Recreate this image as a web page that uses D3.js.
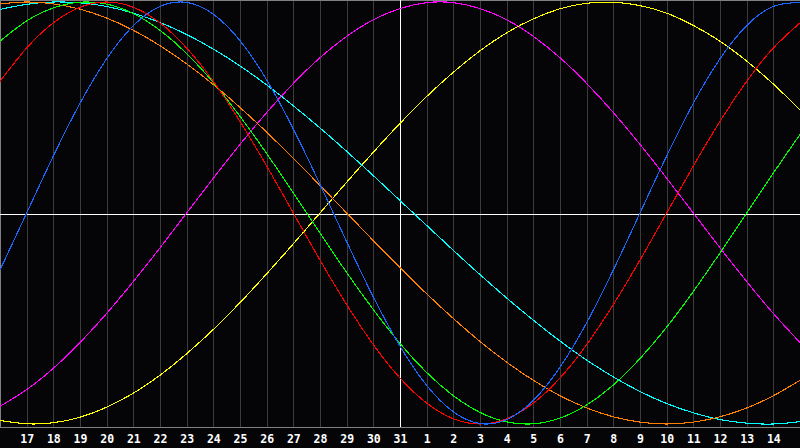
<!DOCTYPE html>
<html>
<head>
<meta charset="utf-8">
<script src="https://cdn.jsdelivr.net/npm/d3@7"></script>
<style>
  html, body { margin: 0; padding: 0; background: #050508; }
  svg { display: block; }
</style>
</head>
<body>
<svg id="chart" width="800" height="448"></svg>
<script>
// Day labels (x positions 1..29 of a 0..30 day window)
const dayLabels = [17,18,19,20,21,22,23,24,25,26,27,28,29,30,31,1,2,3,4,5,6,7,8,9,10,11,12,13,14];

// Daily values for each cycle, day offsets 0..30
const blue23 = [-0.270,0.000,0.270,0.520,0.731,0.888,0.979,0.998,0.942,0.817,0.631,0.398,0.136,-0.136,-0.398,-0.631,-0.817,-0.942,-0.998,-0.979,-0.888,-0.731,-0.520,-0.270,0.000,0.270,0.520,0.731,0.888,0.979,0.998];
const red28 = [0.624,0.782,0.901,0.975,1.000,0.975,0.901,0.782,0.624,0.434,0.223,0.000,-0.223,-0.434,-0.624,-0.782,-0.901,-0.975,-1.000,-0.975,-0.901,-0.782,-0.624,-0.434,-0.223,0.000,0.223,0.434,0.624,0.782,0.901];
const green33 = [0.815,0.910,0.972,0.999,0.990,0.945,0.866,0.756,0.618,0.458,0.282,0.095,-0.095,-0.282,-0.458,-0.618,-0.756,-0.866,-0.945,-0.990,-0.999,-0.972,-0.910,-0.815,-0.690,-0.541,-0.372,-0.189,0.000,0.189,0.372];
const magenta38 = [-0.916,-0.837,-0.736,-0.614,-0.476,-0.325,-0.165,0.000,0.165,0.325,0.476,0.614,0.736,0.837,0.916,0.969,0.997,0.997,0.969,0.916,0.837,0.736,0.614,0.476,0.325,0.165,0.000,-0.165,-0.325,-0.476,-0.614];
const yellow43 = [-0.983,-0.999,-0.994,-0.968,-0.920,-0.854,-0.769,-0.667,-0.552,-0.425,-0.288,-0.146,0.000,0.146,0.288,0.425,0.552,0.667,0.769,0.854,0.920,0.968,0.994,0.999,0.983,0.947,0.889,0.814,0.720,0.611,0.489];
const orange48 = [0.991,1.000,0.991,0.966,0.924,0.866,0.793,0.707,0.609,0.500,0.383,0.259,0.131,0.000,-0.131,-0.259,-0.383,-0.500,-0.609,-0.707,-0.793,-0.866,-0.924,-0.966,-0.991,-1.000,-0.991,-0.966,-0.924,-0.866,-0.793];
const cyan53 = [0.965,0.989,1.000,0.996,0.979,0.947,0.903,0.846,0.777,0.697,0.607,0.508,0.403,0.292,0.177,0.059,-0.059,-0.177,-0.292,-0.403,-0.508,-0.607,-0.697,-0.777,-0.846,-0.903,-0.947,-0.979,-0.996,-1.000,-0.989];

const seriesList = [
  { name: "magenta", values: magenta38, color: "#ff00ff" },
  { name: "yellow", values: yellow43, color: "#ffff00" },
  { name: "cyan", values: cyan53, color: "#00ffff" },
  { name: "orange", values: orange48, color: "#ff8000" },
  { name: "green", values: green33, color: "#00ff00" },
  { name: "red", values: red28, color: "#ff0000" },
  { name: "blue", values: blue23, color: "#1a66ff" }
];

const W = 800, plotBottom = 427;
const svg = d3.select("#chart");

const x = d3.scaleLinear().domain([0, 30]).range([0, 800]);
const y = d3.scaleLinear().domain([-1, 1]).range([424, 2]);

svg.append("rect").attr("x", 0).attr("y", 0).attr("width", 800).attr("height", 448).attr("fill", "#050508");

// vertical day grid
const g = svg.append("g");
g.selectAll("line.grid")
  .data(d3.range(1, 30))
  .join("line")
  .attr("class", "grid")
  .attr("x1", d => Math.round(x(d)) + 0.5)
  .attr("x2", d => Math.round(x(d)) + 0.5)
  .attr("y1", 0)
  .attr("y2", plotBottom)
  .attr("stroke", "#3c3c3c")
  .attr("stroke-width", 1)
  .attr("shape-rendering", "crispEdges");

// frame
svg.append("line").attr("x1", 0.5).attr("x2", 0.5).attr("y1", 0).attr("y2", plotBottom)
  .attr("stroke", "#808080").attr("shape-rendering", "crispEdges");
svg.append("line").attr("x1", 0).attr("x2", W).attr("y1", 0.5).attr("y2", 0.5)
  .attr("stroke", "#808080").attr("shape-rendering", "crispEdges");
svg.append("line").attr("x1", 0).attr("x2", W).attr("y1", plotBottom + 0.5).attr("y2", plotBottom + 0.5)
  .attr("stroke", "#808080").attr("shape-rendering", "crispEdges");

// center cross (today / zero line)
svg.append("line").attr("x1", 0).attr("x2", W)
  .attr("y1", Math.round(y(0)) + 1.5).attr("y2", Math.round(y(0)) + 1.5)
  .attr("stroke", "#ffffff").attr("shape-rendering", "crispEdges");
svg.append("line").attr("x1", Math.round(x(15)) + 0.5).attr("x2", Math.round(x(15)) + 0.5)
  .attr("y1", 0).attr("y2", plotBottom)
  .attr("stroke", "#ffffff").attr("shape-rendering", "crispEdges");

// curves
const line = d3.line()
  .x((d, i) => x(i))
  .y(d => y(d))
  .curve(d3.curveNatural);

svg.append("g").selectAll("path")
  .data(seriesList)
  .join("path")
  .attr("d", d => line(d.values))
  .attr("fill", "none")
  .attr("stroke", d => d.color)
  .attr("stroke-width", 1.1)
  .attr("shape-rendering", "crispEdges");

// day labels
svg.append("g").selectAll("text")
  .data(dayLabels)
  .join("text")
  .attr("x", (d, i) => x(i + 1) + 0.5)
  .attr("y", 443)
  .attr("text-anchor", "middle")
  .attr("fill", "#ffffff")
  .attr("font-family", "'DejaVu Sans Mono', monospace")
  .attr("font-weight", "bold")
  .attr("font-size", 11.5)
  .text(d => d);
</script>
</body>
</html>
